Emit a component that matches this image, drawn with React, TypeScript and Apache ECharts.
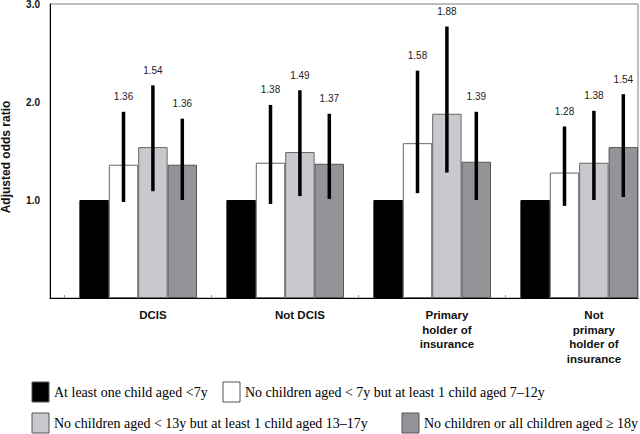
import React, { useEffect, useRef } from "react";
import * as echarts from "echarts";

const categories = ["DCIS", "Not DCIS", "Primary\nholder of\ninsurance", "Not\nprimary\nholder of\ninsurance"];
const seriesNames = [
  "At least one child aged <7y",
  "No children aged < 7y but at least 1 child aged 7–12y",
  "No children aged < 13y but at least 1 child aged 13–17y",
  "No children or all children aged ≥ 18y",
];
const seriesColors = ["#000000", "#ffffff", "#c8c9cc", "#939497"];
const seriesBorders = ["#000000", "#666666", "#666666", "#555555"];

// odds ratios per category for each series
const youngest = [1.0, 1.0, 1.0, 1.0];
const age7to12 = [1.36, 1.38, 1.58, 1.28];
const age13to17 = [1.54, 1.49, 1.88, 1.38];
const age18plus = [1.36, 1.37, 1.39, 1.54];

// 95% CI (low, high)
const ci7to12Low = [0.98, 0.96, 1.07, 0.94];
const ci7to12High = [1.9, 1.97, 2.32, 1.75];
const ci13to17Low = [1.09, 1.04, 1.28, 1.0];
const ci13to17High = [2.17, 2.12, 2.77, 1.91];
const ci18Low = [1.0, 1.01, 1.0, 1.03];
const ci18High = [1.83, 1.88, 1.9, 2.08];

const yTicks = [0, 1, 2, 3];

const SLOTS = 5;

export default function App() {
  const ref = useRef<HTMLDivElement>(null);
  useEffect(() => {
    if (!ref.current) return;
    const chart = echarts.init(ref.current, undefined, { renderer: "svg" });

    const values = [youngest, age7to12, age13to17, age18plus];
    const lows = [null, ci7to12Low, ci13to17Low, ci18Low];
    const highs = [null, ci7to12High, ci13to17High, ci18High];

    const errData: any[] = [];
    for (let s = 1; s < 4; s++) {
      for (let c = 0; c < categories.length; c++) {
        errData.push([c, s + 1, (lows[s] as number[])[c], (highs[s] as number[])[c], values[s][c]]);
      }
    }

    const slotLabels: string[] = [];
    categories.forEach((c) => {
      for (let i = 0; i < SLOTS; i++) slotLabels.push(i === 3 ? c : "");
    });

    const barSeries: any[] = [
      {
        type: "bar",
        name: "_spacer",
        data: categories.map(() => null),
        barGap: "0%",
        barCategoryGap: "0%",
      },
      ...values.map((v, i) => ({
        type: "bar",
        name: seriesNames[i],
        data: v,
        barGap: "0%",
        barCategoryGap: "0%",
        itemStyle: { color: seriesColors[i], borderColor: seriesBorders[i], borderWidth: 1 },
        z: 3,
      })),
    ];

    const legendPos = [
      { left: 31.5, top: 381.5 },
      { left: 222.5, top: 381.5 },
      { left: 31.5, top: 412.5 },
      { left: 401.5, top: 412.5 },
    ];

    const option: any = {
      animation: false,
      backgroundColor: "#ffffff",
      grid: {
        left: 50,
        right: 2,
        top: 4,
        bottom: 136,
        show: true,
        borderColor: "#808080",
        borderWidth: 1,
        backgroundColor: "transparent",
        containLabel: false,
        outerBoundsMode: "none",
      },
      legend: seriesNames.map((n, i) => ({
        data: [{ name: n, itemStyle: { color: seriesColors[i], borderColor: "#555555", borderWidth: 1 } }],
        left: legendPos[i].left,
        top: legendPos[i].top,
        orient: "horizontal",
        padding: 0,
        itemWidth: 17,
        itemHeight: 20,
        icon: "rect",
        selectedMode: false,
        textStyle: { fontFamily: "Liberation Serif", fontSize: 14, color: "#000" },
      })),
      xAxis: [
        {
          type: "category",
          data: categories,
          axisLine: { show: true, lineStyle: { color: "#000", width: 1 } },
          axisTick: { show: false },
          axisLabel: { show: false },
          splitLine: { show: false },
        },
        {
          type: "category",
          data: slotLabels,
          position: "bottom",
          axisLine: { show: false },
          axisTick: { show: true, inside: true, length: 3, alignWithLabel: true, interval: 0, lineStyle: { color: "#999" } },
          axisLabel: {
            show: true,
            interval: 0,
            margin: 10,
            fontFamily: "Liberation Sans",
            fontWeight: "bold",
            fontSize: 11.5,
            lineHeight: 14.5,
            color: "#111",
            align: "center",
          },
          splitLine: { show: false },
        },
      ],
      yAxis: {
        type: "value",
        min: 0,
        max: 3,
        interval: 1,
        name: "Adjusted odds ratio",
        nameLocation: "middle",
        nameGap: 38,
        nameTextStyle: {
          fontFamily: "Liberation Sans",
          fontWeight: "bold",
          fontSize: 12,
          color: "#111",
          padding: [0, 12, 0, 0],
        },
        axisLine: { show: true, lineStyle: { color: "#000", width: 1 } },
        axisTick: { show: false },
        splitLine: { show: false },
        axisLabel: {
          margin: 10,
          fontFamily: "Liberation Sans",
          fontWeight: "bold",
          fontSize: 10,
          color: "#111",
          formatter: (v: number) => (yTicks.indexOf(v) > 0 ? v.toFixed(1) : ""),
        },
      },
      series: [
        ...barSeries,
        {
          type: "custom",
          name: "_err",
          xAxisIndex: 0,
          data: errData,
          encode: { x: 0, y: [2, 3] },
          z: 5,
          renderItem: (params: any, api: any) => {
            const cat = api.value(0);
            const k = api.value(1);
            const lo = api.coord([cat, api.value(2)]);
            const hi = api.coord([cat, api.value(3)]);
            const slotW = api.size([1, 0])[0] / SLOTS;
            const x = lo[0] + (k - 2) * slotW;
            return {
              type: "group",
              children: [
                {
                  type: "line",
                  shape: { x1: x, y1: lo[1], x2: x, y2: hi[1] },
                  style: { stroke: "#000", lineWidth: 3.5 },
                },
                {
                  type: "text",
                  x: x,
                  y: hi[1] - 15,
                  style: {
                    text: api.value(4).toFixed(2),
                    align: "center",
                    verticalAlign: "middle",
                    fill: "#222",
                    fontSize: 10,
                    fontFamily: "Liberation Sans",
                  },
                },
              ],
            };
          },
        },
      ],
    };

    chart.setOption(option);
    return () => chart.dispose();
  }, []);

  return (
    <div
      ref={ref}
      style={{ position: "absolute", left: 0, top: 0, width: 640, height: 434, background: "#fff" }}
    />
  );
}
